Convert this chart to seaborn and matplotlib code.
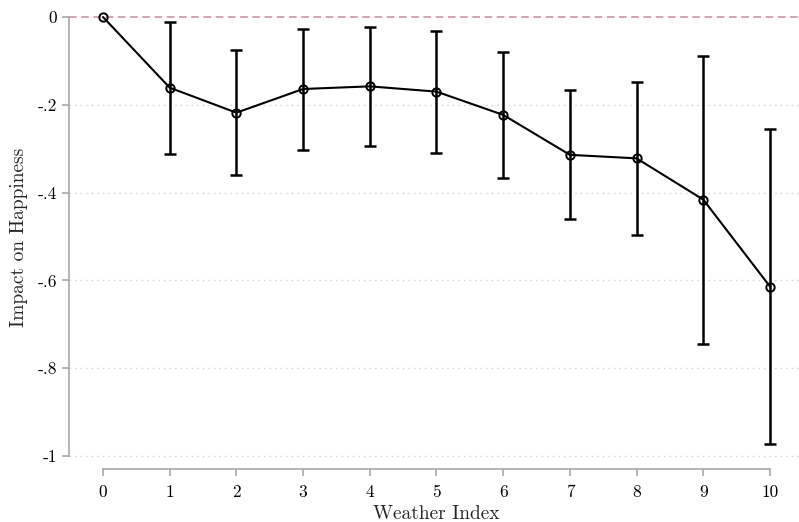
import numpy as np
import pandas as pd
import matplotlib
matplotlib.use("Agg")
import matplotlib.pyplot as plt
import seaborn as sns

# ---- data ----
weather_index = [0, 1, 2, 3, 4, 5, 6, 7, 8, 9, 10]
impact = [0.0, -0.161, -0.218, -0.164, -0.158, -0.170, -0.223, -0.314, -0.322, -0.416, -0.614]
ci_upper = [0.0, -0.011, -0.075, -0.027, -0.023, -0.031, -0.080, -0.167, -0.148, -0.088, -0.256]
ci_lower = [0.0, -0.312, -0.361, -0.303, -0.294, -0.310, -0.367, -0.461, -0.497, -0.745, -0.972]
y_ticks = [0, -0.2, -0.4, -0.6, -0.8, -1.0]
y_tick_labels = ["0", "-.2", "-.4", "-.6", "-.8", "-1"]
x_label = "Weather Index"
y_label = "Impact on Happiness"

sns.set_theme(style="white")
plt.rcParams["font.family"] = ["cmr10", "DejaVu Serif"]
plt.rcParams["axes.unicode_minus"] = False

df = pd.DataFrame({"x": weather_index, "y": impact,
                   "lo": ci_lower, "hi": ci_upper})

fig = plt.figure(figsize=(7.99, 5.22), dpi=100)
W, H = 799, 522
left, right, top, bottom = 69, 799, 8, 469
ax = fig.add_axes([left / W, (H - bottom) / H, (right - left) / W, (bottom - top) / H])

# axis scale: x=0 at px 103, x=10 at px 770 ; y=0 at px 17, y=-1 at px 456
xpx = (770 - 103) / 10
x0 = 0 - (103 - left) / xpx
x1 = 10 + (right - 770) / xpx
ypx = (456 - 17)
y1 = 0 + (17 - top) / ypx
y0 = -1 - (bottom - 456) / ypx
ax.set_xlim(x0, x1)
ax.set_ylim(y0, y1)

# grid lines and zero reference line
for yt in y_ticks[1:]:
    ax.axhline(yt, color="#d0d0d0", lw=1.0, ls=(0, (1, 3)), zorder=0)
ax.axhline(0, color="#c98aa8", lw=1.1, ls=(0, (5, 3)), zorder=1)

# error bars (skip the reference category 0)
sub = df.iloc[1:]
ax.errorbar(sub["x"], sub["y"],
            yerr=[sub["y"] - sub["lo"], sub["hi"] - sub["y"]],
            fmt="none", ecolor="black", elinewidth=1.8, capsize=4, capthick=1.8, zorder=3)

sns.lineplot(data=df, x="x", y="y", ax=ax, color="black", lw=1.5,
             marker="o", markersize=6, markerfacecolor="none",
             markeredgecolor="black", markeredgewidth=1.4, zorder=4)

# spines (Stata-like)
ax.spines["top"].set_visible(False)
ax.spines["right"].set_visible(False)
ax.spines["left"].set_color("#a8a8a8")
ax.spines["bottom"].set_color("#a8a8a8")
ax.spines["left"].set_linewidth(1.2)
ax.spines["bottom"].set_linewidth(1.2)
ax.spines["left"].set_bounds(-1, 0)
ax.spines["bottom"].set_bounds(0, 10)

ax.set_yticks(y_ticks)
ax.set_yticklabels(y_tick_labels)
ax.set_xticks(weather_index)
ax.set_xticklabels([str(v) for v in weather_index])
ax.tick_params(axis="y", left=True, length=5, width=1.2, color="#a8a8a8",
               pad=3.5, labelsize=12.5, labelcolor="black")
ax.tick_params(axis="x", bottom=True, length=5, width=1.2, color="#a8a8a8",
               pad=6, labelsize=12.5, labelcolor="black")

ax.set_xlabel(x_label, fontsize=14)
ax.set_ylabel(y_label, fontsize=14)
ax.xaxis.set_label_coords((436 - left) / (right - left), (bottom - 505) / (bottom - top))
ax.yaxis.set_label_coords((28 - left) / (right - left), (bottom - 237) / (bottom - top))

fig.savefig("out.png", dpi=100)
